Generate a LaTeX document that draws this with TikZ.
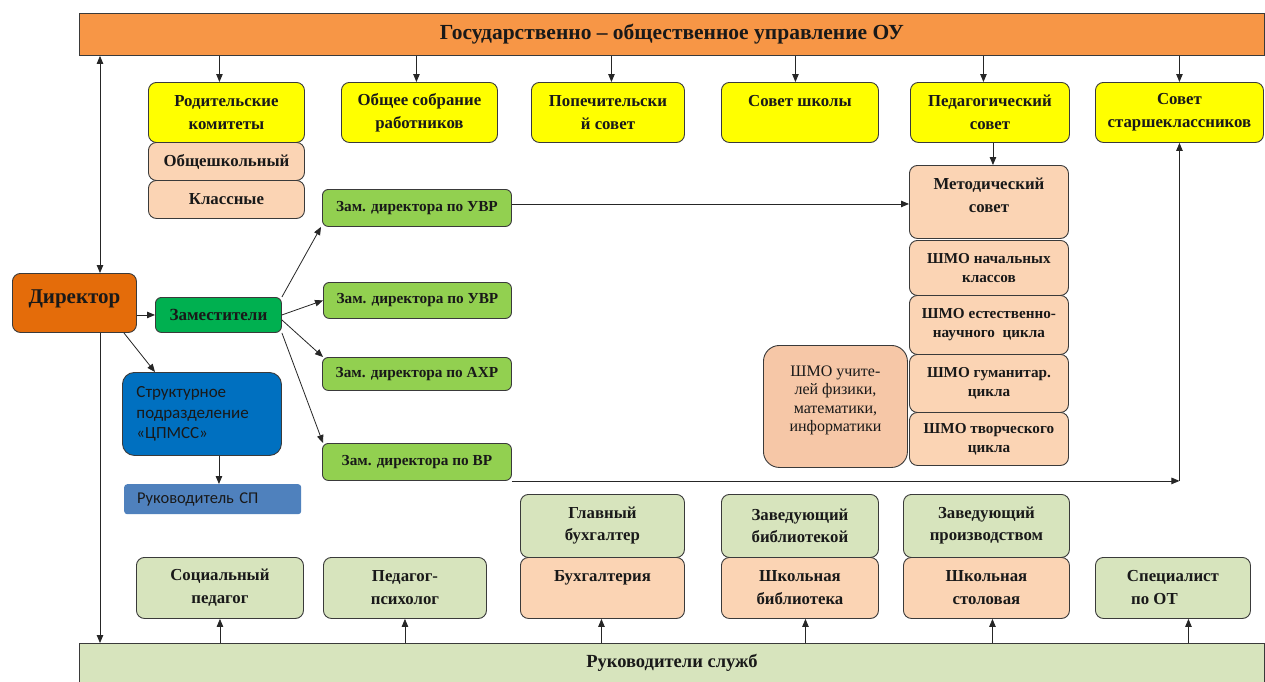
\documentclass[tikz,border=0pt]{standalone}
\usepackage{fontspec}
\setmainfont{Liberation Serif}
\newfontfamily\calib{Carlito}
\usetikzlibrary{arrows.meta}
\definecolor{cOrange}{HTML}{F79646}
\definecolor{cYellow}{HTML}{FFFF00}
\definecolor{cPeach}{HTML}{FBD4B4}
\definecolor{cPeachB}{HTML}{F6C7A7}
\definecolor{cDir}{HTML}{E46C0A}
\definecolor{cZam}{HTML}{00B050}
\definecolor{cLime}{HTML}{92D050}
\definecolor{cBlue}{HTML}{0070C0}
\definecolor{cBlueB}{HTML}{4F81BD}
\definecolor{cLG}{HTML}{D7E4BD}
\definecolor{cLine}{HTML}{3A3A3A}
\newcommand\fsTitle{\fontsize{21.5}{24}\selectfont}
\newcommand\fsY{\fontsize{16.8}{23}\selectfont}
\newcommand\fsZ{\fontsize{15.3}{18}\selectfont}
\newcommand\fsS{\fontsize{15.2}{19}\selectfont}
\newcommand\fsBt{\fontsize{16.8}{22}\selectfont}
\newcommand\fsBar{\fontsize{18.5}{22}\selectfont}
\newcommand\fsDir{\fontsize{21}{25}\selectfont}
\newcommand\fsCal{\fontsize{17}{20.5}\selectfont}
\begin{document}
\begin{tikzpicture}[x=1pt,y=-1pt,
  box/.style={draw=cLine, line width=0.9pt, rounded corners=8pt, align=center,
    inner sep=2pt, anchor=north west, font=\bfseries\fsY, text=black!90},
  bar/.style={draw=cLine, line width=0.9pt, anchor=north west, text=black!90},
  arr/.style={draw=black!85, line width=0.8pt, -{Triangle[length=8pt,width=6.5pt]}},
  darr/.style={draw=black!85, line width=0.8pt, {Triangle[length=8pt,width=6.5pt]}-{Triangle[length=8pt,width=6.5pt]}}
]
\useasboundingbox (0,0) rectangle (1265,681);
\fill[white] (0,0) rectangle (1265,681);

% bars
\node[bar, fill=cOrange, minimum width=1185pt, minimum height=42pt, font=\bfseries\fsTitle] (top) at (79,13) {Государственно – общественное управление ОУ};
\node[bar, fill=cLG, minimum width=1185pt, minimum height=39pt, font=\bfseries\fsBar] (bot) at (79,643) {Руководители служб};

% yellow row
\node[box, fill=cYellow, minimum width=156pt, minimum height=60pt] (rod) at (148,82) {Родительские\\комитеты};
\node[box, fill=cYellow, minimum width=156pt, minimum height=60pt] (obsh) at (341,82) {Общее собрание\\работников};
\node[box, fill=cYellow, minimum width=153pt, minimum height=60pt] (pop) at (531,82) {Попечительски\\й совет};
\node[box, fill=cYellow, minimum width=157pt, minimum height=60pt] (sovsh) at (721,82) {Совет школы\\\mbox{}};
\node[box, fill=cYellow, minimum width=159pt, minimum height=60pt] (ped) at (910,82) {Педагогический\\совет};
\node[box, fill=cYellow, minimum width=168pt, minimum height=60pt] (star) at (1095,82) {Совет\\старшеклассников};

% parents committees
\node[box, fill=cPeach, minimum width=156pt, minimum height=38pt] (obshk) at (148,142) {Общешкольный};
\node[box, fill=cPeach, minimum width=156pt, minimum height=38pt] (klass) at (148,180) {Классные};

% methodical
\node[box, fill=cPeach, minimum width=159pt, minimum height=73pt] (met) at (909,165) {Методический\\совет\\[-10pt]\mbox{}};
\node[box, fill=cPeach, minimum width=159pt, minimum height=55pt, font=\bfseries\fsS] (shA) at (909,240) {ШМО начальных\\классов};
\node[box, fill=cPeach, minimum width=159pt, minimum height=59pt, font=\bfseries\fsS] (shB) at (909,295) {ШМО естественно-\\научного\ \ цикла};
\node[box, fill=cPeach, minimum width=159pt, minimum height=58pt, font=\bfseries\fsS] (shC) at (909,354) {ШМО гуманитар.\\цикла};
\node[box, fill=cPeach, minimum width=159pt, minimum height=53pt, font=\bfseries\fsS] (shD) at (909,412) {ШМО творческого\\цикла};
\node[box, fill=cPeachB, rounded corners=16pt, minimum width=144pt, minimum height=122pt, font=\fontsize{16}{18.5}\selectfont] (shF) at (763,345) {ШМО учите-\\лей физики,\\математики,\\информатики\\[-2.5pt]\mbox{}};

% director & deputies
\node[box, fill=cDir, minimum width=124pt, minimum height=59pt, font=\bfseries\fsDir] (dir) at (12,273) {Директор\\[-12pt]\mbox{}};
\node[box, fill=cZam, minimum width=126pt, minimum height=35pt, font=\bfseries\fontsize{17}{20}\selectfont, rounded corners=6pt] (zam) at (155,297) {Заместители};
\node[box, fill=cLime, minimum width=189pt, minimum height=37pt, font=\bfseries\fsZ, rounded corners=6pt] (zuA) at (322,189) {Зам. директора по УВР};
\node[box, fill=cLime, minimum width=188pt, minimum height=36pt, font=\bfseries\fsZ, rounded corners=6pt] (zuB) at (323,282) {Зам. директора по УВР};
\node[box, fill=cLime, minimum width=189pt, minimum height=33pt, font=\bfseries\fsZ, rounded corners=6pt] (zahr) at (322,357) {Зам. директора по АХР};
\node[box, fill=cLime, minimum width=189pt, minimum height=37pt, font=\bfseries\fsZ, rounded corners=6pt] (zvr) at (322,443) {Зам. директора по ВР};

% structural unit
\node[box, fill=cBlue, rounded corners=12pt, minimum width=159pt, minimum height=83pt, inner xsep=14pt, text width=131pt, align=left, font=\calib\fsCal] (cpm) at (122,372) {Структурное\\подразделение\\«ЦПМСС»};
\node[anchor=north west, fill=cBlueB, rounded corners=3pt, minimum width=177pt, minimum height=30pt, inner xsep=13pt, text width=151pt, align=left, font=\calib\fontsize{16.5}{20}\selectfont, text=black!90] (ruk) at (124,484) {Руководитель СП};

% services
\node[box, fill=cLG, minimum width=164pt, minimum height=63pt, font=\bfseries\fsBt] (glb) at (520,494) {Главный\\бухгалтер};
\node[box, fill=cPeach, minimum width=164pt, minimum height=61pt] (buh) at (520,557) {Бухгалтерия\\\mbox{}};
\node[box, fill=cLG, minimum width=167pt, minimum height=61pt] (socp) at (136,557) {Социальный\\педагог};
\node[box, fill=cLG, minimum width=163pt, minimum height=61pt] (psy) at (323,557) {Педагог-\\психолог};
\node[box, fill=cLG, minimum width=157pt, minimum height=63pt, font=\bfseries\fsBt] (zbib) at (721,494) {Заведующий\\библиотекой};
\node[box, fill=cPeach, minimum width=157pt, minimum height=61pt] (sbib) at (721,557) {Школьная\\библиотека};
\node[box, fill=cLG, minimum width=166pt, minimum height=63pt, font=\bfseries\fsBt] (zpr) at (903,494) {Заведующий\\производством};
\node[box, fill=cPeach, minimum width=166pt, minimum height=61pt] (stol) at (903,557) {Школьная\\столовая};
\node[box, fill=cLG, minimum width=155pt, minimum height=61pt, align=left] (ot) at (1095,557) {Специалист\\\ по ОТ};

% connectors from top bar
\draw[arr] ([xshift=-7pt]top.south -| rod.north) -- ([xshift=-7pt]rod.north);
\draw[arr] ([xshift=-3pt]top.south -| obsh.north) -- ([xshift=-3pt]obsh.north);
\draw[arr] ([xshift=3.5pt]top.south -| pop.north) -- ([xshift=3.5pt]pop.north);
\draw[arr] ([xshift=-4.5pt]top.south -| sovsh.north) -- ([xshift=-4.5pt]sovsh.north);
\draw[arr] ([xshift=-6.5pt]top.south -| ped.north) -- ([xshift=-6.5pt]ped.north);
\draw[arr] (top.south -| star.north) -- (star.north);

% director vertical line
\coordinate (vx) at (100,0);
\draw[darr] (top.south -| vx) -- (dir.north -| vx);
\draw[arr] (dir.south -| vx) -- (bot.north -| vx);

% director to deputies
\draw[arr] (dir.east |- zam.west) -- (zam.west);
\draw[arr] ([xshift=-13pt]dir.south east) -- ([xshift=33pt]cpm.north west);
\draw[arr] ([xshift=17pt]cpm.south) -- ([xshift=17pt]cpm.south |- ruk.north);
\draw[arr] (zam.north east) -- ([xshift=-1pt]zuA.south west);
\draw[arr] (zam.east) -- (zuB.west);
\draw[arr] ([yshift=-5pt]zam.east) -- ([xshift=1pt]zahr.north west);
\draw[arr] (zam.south east) -- ([xshift=1pt]zvr.north west);

% methodical links
\draw[arr] ([yshift=4pt]zuA.east) -- ([yshift=4pt]met.west |- zuA.east);
\draw[arr] ([xshift=3pt]ped.south) -- ([xshift=3pt]ped.south |- met.north);
\draw[arr] (zvr.south east) -- (star.south |- zvr.south east);
\draw[arr] (star.south |- zvr.south east) -- (star.south);

% bottom bar arrows
\draw[arr] (bot.north -| socp.south) -- (socp.south);
\draw[arr] (bot.north -| psy.south) -- (psy.south);
\draw[arr] ([xshift=-1pt]bot.north -| buh.south) -- ([xshift=-1pt]buh.south);
\draw[arr] ([xshift=5.5pt]bot.north -| sbib.south) -- ([xshift=5.5pt]sbib.south);
\draw[arr] ([xshift=6pt]bot.north -| stol.south) -- ([xshift=6pt]stol.south);
\draw[arr] ([xshift=15.5pt]bot.north -| ot.south) -- ([xshift=15.5pt]ot.south);
\end{tikzpicture}
\end{document}
